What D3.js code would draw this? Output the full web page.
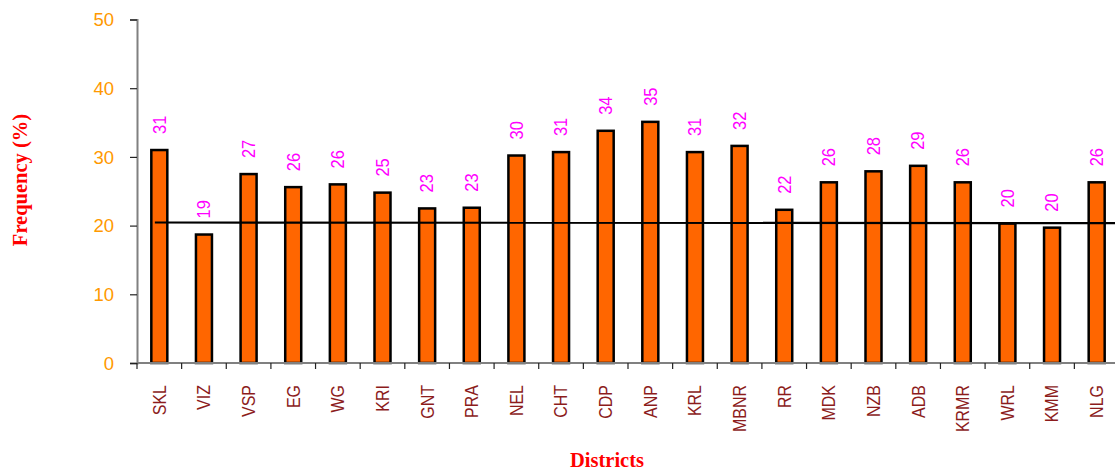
<!DOCTYPE html>
<html>
<head>
<meta charset="utf-8">
<script src="https://cdn.jsdelivr.net/npm/d3@7"></script>
<style>
  html, body { margin: 0; padding: 0; background: #fff; }
  svg { display: block; }
</style>
</head>
<body>
<svg id="chart" width="1115" height="471"></svg>
<script>
const districts = ["SKL","VIZ","VSP","EG","WG","KRI","GNT","PRA","NEL","CHT","CDP","ANP","KRL","MBNR","RR","MDK","NZB","ADB","KRMR","WRL","KMM","NLG"];
const frequency = [31.0,18.7,27.5,25.6,26.0,24.8,22.5,22.6,30.2,30.7,33.8,35.1,30.7,31.6,22.3,26.3,27.9,28.7,26.3,20.3,19.7,26.3];
const barLabels = ["31","19","27","26","26","25","23","23","30","31","34","35","31","32","22","26","28","29","26","20","20","26"];
const meanValue = [20.45, 20.35];
const yTicks = [0,10,20,30,40,50];

const svg = d3.select("#chart");
const plotLeft = 137, plotRight = 1119, plotTop = 19.5, plotBottom = 363;

const x = d3.scaleBand().domain(districts).range([plotLeft, plotRight]).paddingInner(0).paddingOuter(0);
const y = d3.scaleLinear().domain([0, 50]).range([plotBottom, plotTop]);
const bw = x.bandwidth();

// Bars
svg.append("g").selectAll("rect").data(districts).join("rect")
  .attr("x", d => x(d) + bw / 2 - 8)
  .attr("width", 16)
  .attr("y", (d, i) => y(frequency[i]))
  .attr("height", (d, i) => plotBottom - y(frequency[i]))
  .attr("fill", "#FF6600")
  .attr("stroke", "#000")
  .attr("stroke-width", 2.5);

// Mean line
const lx = d3.scaleLinear().domain([0, 1]).range([x(districts[0]) + bw * 0.4, 1115]);
svg.append("line")
  .attr("x1", lx(0)).attr("x2", lx(1))
  .attr("y1", y(meanValue[0])).attr("y2", y(meanValue[1]))
  .attr("stroke", "#000").attr("stroke-width", 2.2);

// Y axis
const yAxis = d3.axisLeft(y).tickValues(yTicks).tickSize(7).tickPadding(16).tickFormat(d3.format("d"));
const gy = svg.append("g").attr("transform", `translate(${plotLeft},0)`).call(yAxis);
gy.select(".domain").attr("stroke", "#808080").attr("stroke-width", 2);
gy.selectAll(".tick line").attr("stroke", "#222").attr("stroke-width", 1.2);
gy.selectAll(".tick text").attr("fill", "#FF9900").attr("font-family", "Arial, 'Liberation Sans', sans-serif").attr("font-size", 18.5).attr("dy", "0.34em");

// X axis line and ticks at band boundaries
svg.append("line").attr("x1", plotLeft).attr("x2", 1115).attr("y1", plotBottom).attr("y2", plotBottom)
  .attr("stroke", "#808080").attr("stroke-width", 2);
svg.append("g").selectAll("line").data(districts).join("line")
  .attr("x1", d => x(d)).attr("x2", d => x(d))
  .attr("y1", plotBottom).attr("y2", plotBottom + 6)
  .attr("stroke", "#222").attr("stroke-width", 1.2);

// Category labels
svg.append("g").selectAll("text").data(districts).join("text")
  .attr("transform", d => `translate(${x(d) + bw / 2},${385}) rotate(-90) scale(1,1.15)`)
  .attr("text-anchor", "end")
  .attr("dy", "0.35em")
  .attr("fill", "#8c1c1c")
  .attr("font-family", "Arial, 'Liberation Sans', sans-serif")
  .attr("font-size", 16)
  .text(d => d);

// Value labels
svg.append("g").selectAll("text").data(districts).join("text")
  .attr("transform", (d, i) => `translate(${x(d) + bw / 2},${y(frequency[i]) - 16}) rotate(-90) scale(1,1.1)`)
  .attr("text-anchor", "start")
  .attr("dy", "0.35em")
  .attr("fill", "#FF00FF")
  .attr("font-family", "Arial, 'Liberation Sans', sans-serif")
  .attr("font-size", 16.5)
  .text((d, i) => barLabels[i]);

// Axis titles
svg.append("text")
  .attr("x", 607).attr("y", 467)
  .attr("text-anchor", "middle")
  .attr("fill", "#FF0000")
  .attr("font-family", "'Times New Roman', 'Liberation Serif', serif")
  .attr("font-weight", "bold")
  .attr("font-size", 20.5)
  .text("Districts");

svg.append("text")
  .attr("transform", "translate(27,180) rotate(-90)")
  .attr("text-anchor", "middle")
  .attr("fill", "#FF0000")
  .attr("font-family", "'Times New Roman', 'Liberation Serif', serif")
  .attr("font-weight", "bold")
  .attr("font-size", 20.5)
  .text("Frequency (%)");
</script>
</body>
</html>
